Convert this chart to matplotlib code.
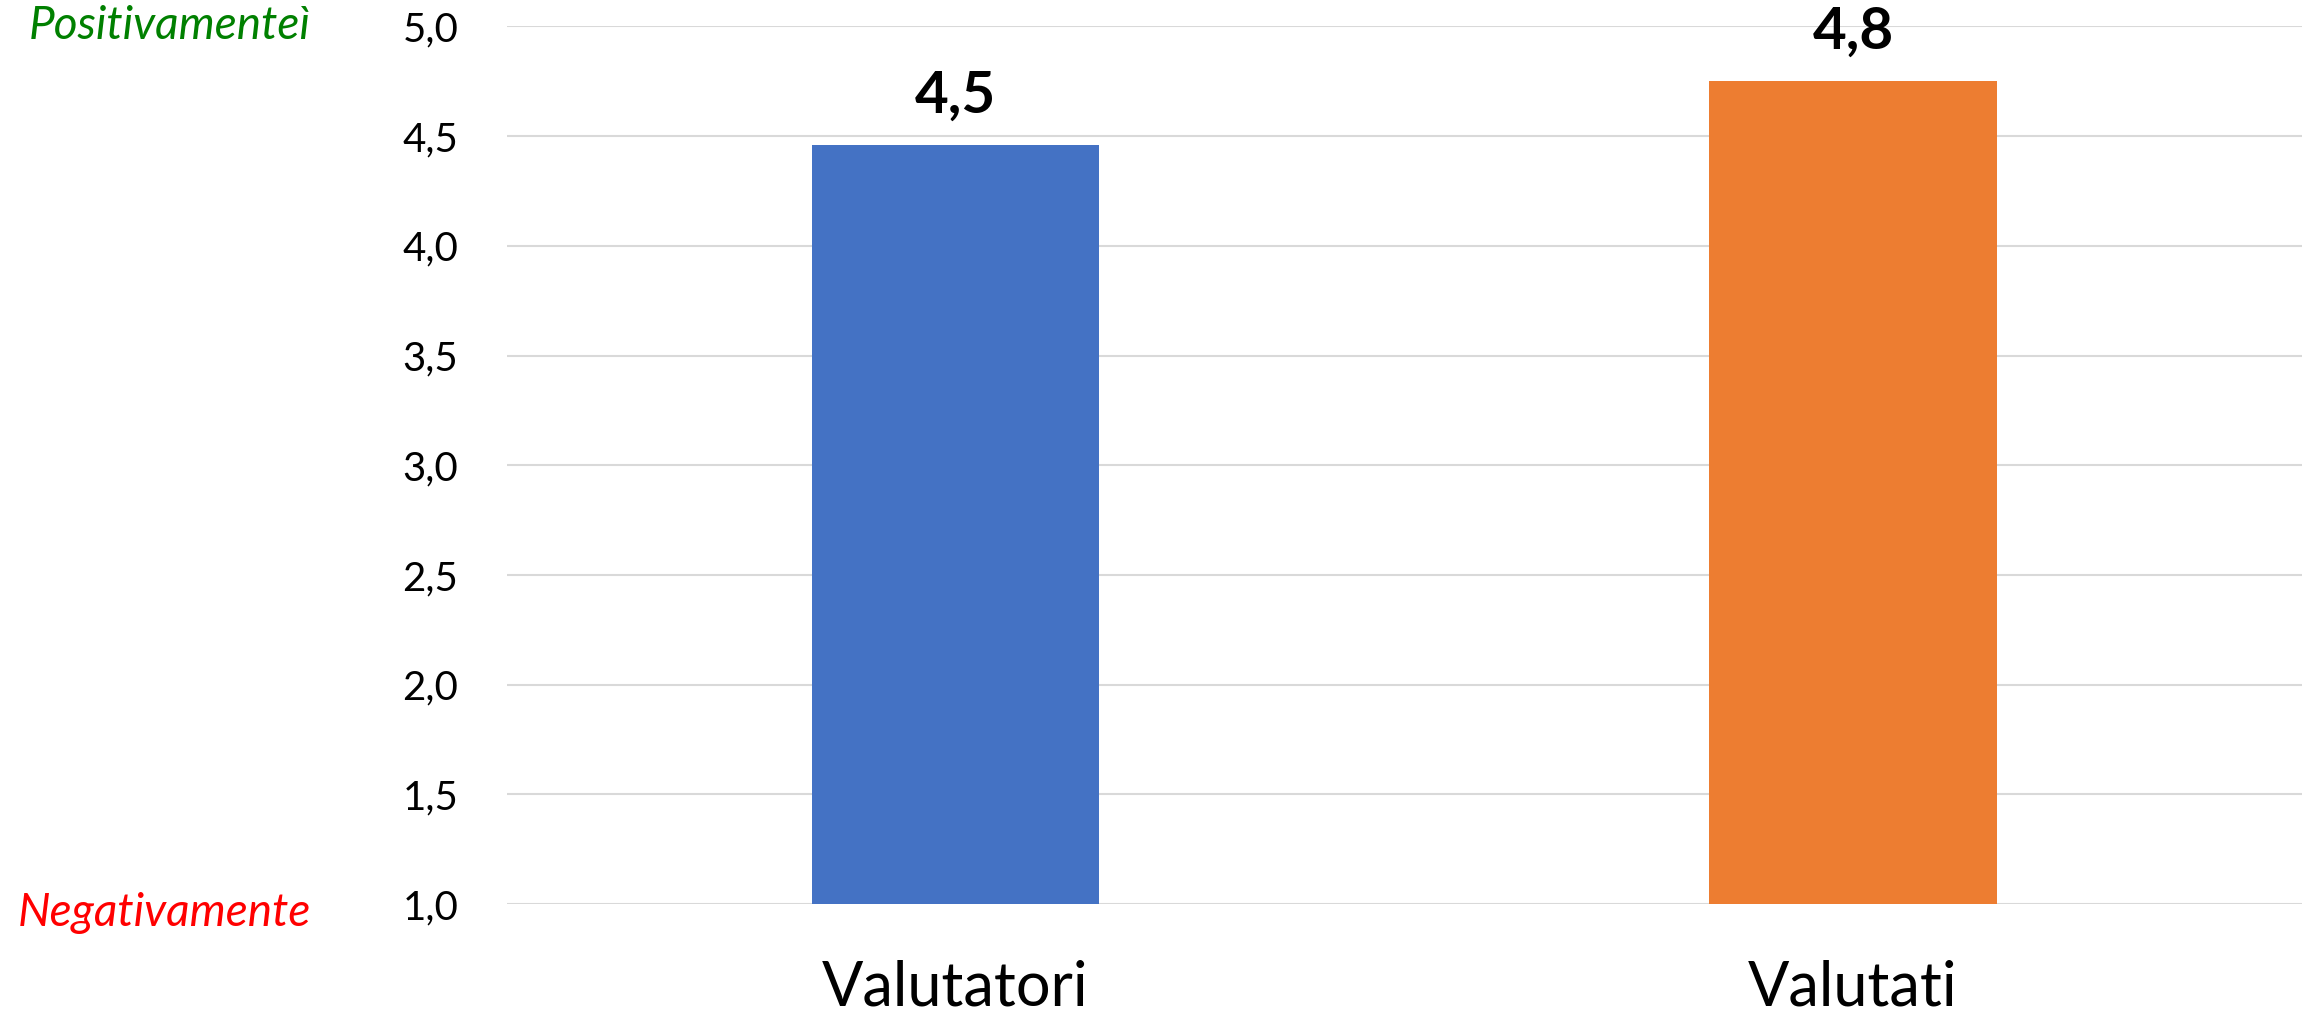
import numpy as np
import matplotlib
matplotlib.use("Agg")
import matplotlib.pyplot as plt
import matplotlib.transforms as mtransforms

plt.rcParams['font.family'] = ['Lato', 'DejaVu Sans']

# punteggi medi
categorie = ['Valutatori', 'Valutati']
punteggi = [4.46, 4.75]
colori = ['#4472C4', '#ED7D31']
yticks = [1.0, 1.5, 2.0, 2.5, 3.0, 3.5, 4.0, 4.5, 5.0]

fig = plt.figure(figsize=(23.04, 10.17), dpi=100, facecolor='white')
ax = fig.add_axes([0.22, 0.111, 0.779, 0.863])

x = np.arange(len(categorie))
bars = ax.bar(x, punteggi, width=0.32, color=colori, bottom=0, zorder=3)

ax.set_xlim(-0.5, len(categorie) - 0.5)
ax.set_ylim(1.0, 5.0)
ax.set_yticks(yticks)
ax.set_yticklabels([f"{v:.1f}".replace('.', ',') for v in yticks], fontsize=29)
ax.set_xticks(x)
ax.set_xticklabels(categorie, fontsize=44)
ax.tick_params(axis='y', length=0, pad=35)
ax.tick_params(axis='x', length=0, pad=40)

ax.grid(axis='y', color='#d9d9d9', linewidth=1.5, zorder=0)
for s in ax.spines.values():
    s.set_visible(False)

# etichette dei valori sopra le barre
for xi, v in zip(x, punteggi):
    ax.annotate(f"{v:.1f}".replace('.', ','), xy=(xi, v), xytext=(0, 16),
                textcoords='offset points', ha='center', va='bottom',
                fontsize=42, fontweight='bold', color='black')

# estremi della scala
trans = mtransforms.blended_transform_factory(fig.transFigure, ax.transData)
ax.text(0.135, 5.0, 'Positivamenteì', transform=trans, ha='right', va='center',
        fontsize=33, style='italic', color='#008000')
ax.text(0.135, 0.96, 'Negativamente', transform=trans, ha='right', va='center',
        fontsize=33, style='italic', color='#ff0000', clip_on=False)

fig.savefig('out.png', dpi=100, facecolor='white')
